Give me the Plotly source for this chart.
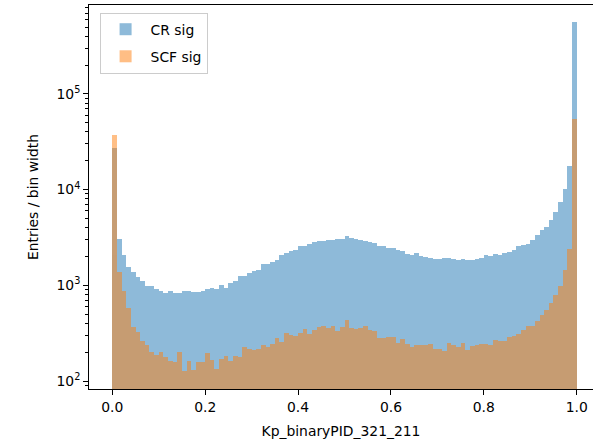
import numpy as np
import plotly.graph_objects as go

# 100 uniform bins on [0, 1]
n_bins = 100
bin_lo, bin_hi = 0.0, 1.0

cr_sig = [27000, 3020, 2070, 1570, 1390, 1230, 1110, 991, 991, 908,
          879, 838, 865, 824, 838, 872, 865, 851, 844, 872,
          912, 931, 914, 1007, 931, 1050, 1110, 1240, 1240, 1333,
          1420, 1445, 1670, 1670, 1766, 1836, 2070, 2175, 2290, 2360,
          2580, 2600, 2680, 2810, 2880, 2900, 2970, 2950, 3070, 3070,
          3260, 3100, 3020, 3000, 2900, 2820, 2750, 2590, 2590, 2440,
          2440, 2340, 2270, 2140, 2080, 2190, 2000, 1975, 1915, 1880,
          1880, 1940, 1940, 1900, 1850, 1870, 1840, 1860, 1880, 1945,
          2060, 2000, 2110, 2050, 2160, 2215, 2360, 2575, 2660, 2720,
          2970, 3355, 3790, 4100, 4810, 5870, 7480, 10140, 17700, 569000]

scf_sig = [37000, 1370, 872, 575, 370, 328, 262, 238, 203, 187,
           199, 180, 163, 159, 199, 126, 161, 129, 159, 159,
           195, 165, 134, 168, 182, 162, 183, 178, 224, 218,
           211, 217, 237, 228, 244, 284, 258, 315, 302, 292,
           315, 348, 310, 341, 366, 377, 356, 377, 335, 364,
           437, 356, 347, 356, 377, 344, 333, 284, 284, 286,
           290, 250, 274, 244, 228, 235, 235, 235, 243, 215,
           215, 206, 251, 240, 224, 252, 212, 230, 238, 244,
           243, 236, 266, 262, 262, 290, 292, 313, 345, 380,
           380, 424, 490, 552, 658, 792, 995, 1445, 2380, 54300]

series_names = ["CR sig", "SCF sig"]
x_ticks = [0.0, 0.2, 0.4, 0.6, 0.8, 1.0]
x_tick_labels = ["0.0", "0.2", "0.4", "0.6", "0.8", "1.0"]
y_ticks = [100, 1000, 10000, 100000]
y_tick_labels = ["10<sup>2</sup>", "10<sup>3</sup>", "10<sup>4</sup>", "10<sup>5</sup>"]

edges = np.linspace(bin_lo, bin_hi, n_bins + 1)
centers = 0.5 * (edges[:-1] + edges[1:])
width = edges[1] - edges[0]

minor_vals = [m * 10 ** e for e in range(1, 6) for m in range(2, 10)]

fig = go.Figure()
fig.add_trace(go.Bar(x=centers, y=cr_sig, width=width, name=series_names[0],
                     legendgroup="a",
                     marker=dict(color="#1f77b4", line=dict(width=0)), opacity=0.5))
fig.add_trace(go.Bar(x=centers, y=scf_sig, width=width, name=series_names[1],
                     legendgroup="b",
                     marker=dict(color="#ff7f0e", line=dict(width=0)), opacity=0.5))

font = dict(family="DejaVu Sans", size=13.9, color="black")
fig.update_layout(
    width=593, height=444,
    margin=dict(l=89, r=0, t=5, b=55, autoexpand=False),
    paper_bgcolor="white", plot_bgcolor="white",
    barmode="overlay", bargap=0,
    font=font,
    showlegend=True,
    legend=dict(x=0.021, y=0.98, xanchor="left", yanchor="top",
                bgcolor="rgba(255,255,255,0.8)", bordercolor="#cccccc", borderwidth=1,
                font=font, tracegroupgap=6, itemwidth=40),
    xaxis=dict(range=[-0.0502, 1.0351], tickvals=x_ticks, ticktext=x_tick_labels,
               ticks="outside", ticklen=4.9, tickwidth=1, tickcolor="black",
               showline=True, linecolor="black", linewidth=1, mirror=True,
               showgrid=False, zeroline=False, automargin=False,
               title=dict(text="Kp_binaryPID_321_211", font=font, standoff=12)),
    yaxis=dict(type="log", range=[1.9164, 5.929], tickvals=y_ticks, ticktext=y_tick_labels,
               ticks="outside", ticklen=4.9, tickwidth=1, tickcolor="black",
               showline=True, linecolor="black", linewidth=1, mirror=False,
               showgrid=False, zeroline=False, automargin=False,
               minor=dict(tickvals=minor_vals, ticks="outside", ticklen=2.8,
                          tickwidth=0.8, tickcolor="black", showgrid=False),
               title=dict(text="Entries / bin width", font=font, standoff=14)),
)

fig.write_html("out.html", config={"displayModeBar": False},
               post_script="document.body.style.margin='0';")
